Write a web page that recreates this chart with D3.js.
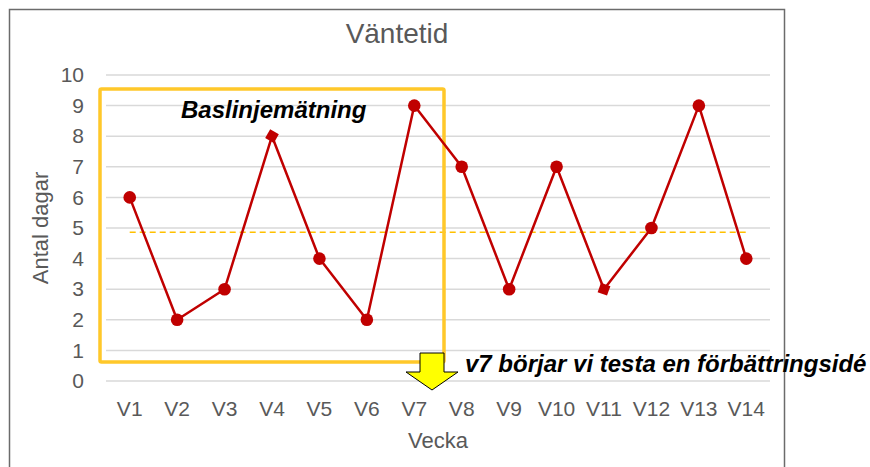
<!DOCTYPE html>
<html>
<head>
<meta charset="utf-8">
<script src="https://cdn.jsdelivr.net/npm/d3@7"></script>
<style>
  html, body { margin: 0; padding: 0; background: #fff; }
  svg { display: block; font-family: "Liberation Sans", Arial, sans-serif; }
</style>
</head>
<body>
<svg id="chart" width="870" height="467"></svg>
<script>
// Waiting time per week (days)
const weeks = ["V1","V2","V3","V4","V5","V6","V7","V8","V9","V10","V11","V12","V13","V14"];
const days = [6, 2, 3, 8, 4, 2, 9, 7, 3, 7, 3, 5, 9, 4];
// Marker shape per week: most are dots, two are tilted squares
const markerKinds = ["circle","circle","circle","square","circle","circle","circle","circle","circle","circle","square","circle","circle","circle"];
const markerTilt = [0,0,0,30,0,0,0,0,0,0,20,0,0,0];
const yTicks = [0,1,2,3,4,5,6,7,8,9,10];
// Baseline period V1–V7 and its mean
const baselineWeeks = weeks.slice(0, 7);
const baselineMean = d3.mean(days.slice(0, 7));
const boxRange = [0.62, 9.54];

const titleText = "Väntetid";
const xTitle = "Vecka";
const yTitle = "Antal dagar";
const baselineLabel = "Baslinjemätning";
const changeLabel = "v7 börjar vi testa en förbättringsidé";

const svg = d3.select("#chart");
const plot = { left: 106, right: 770, top: 75, bottom: 381 };

const x = d3.scaleBand().domain(weeks).range([plot.left, plot.right]).padding(0);
const y = d3.scaleLinear().domain([0, 10]).range([plot.bottom, plot.top]);
const cx = d => x(d) + x.bandwidth() / 2;

// Chart frame (open at the bottom edge of the window)
svg.append("rect")
  .attr("x", 9.5).attr("y", 9.5).attr("width", 775).attr("height", 480)
  .attr("fill", "#fff").attr("stroke", "#6b6b6b").attr("stroke-width", 1.5);

// Title
svg.append("text")
  .attr("x", (plot.left + plot.right) / 2 - 41).attr("y", 43)
  .attr("text-anchor", "middle")
  .attr("font-size", 28).attr("fill", "#595959")
  .text(titleText);

// Horizontal gridlines
svg.append("g").selectAll("line").data(yTicks).join("line")
  .attr("x1", plot.left).attr("x2", plot.right)
  .attr("y1", d => y(d)).attr("y2", d => y(d))
  .attr("stroke", "#d9d9d9").attr("stroke-width", 1.5);

// Y axis tick labels
const yAxis = d3.axisLeft(y).tickValues(yTicks).tickSize(0).tickPadding(0);
svg.append("g").attr("transform", `translate(${plot.left - 22},0)`)
  .call(yAxis)
  .call(g => g.select(".domain").remove())
  .call(g => g.selectAll("text")
    .attr("font-size", 21).attr("fill", "#595959")
    .attr("font-family", "Liberation Sans, Arial, sans-serif"));

// X axis tick labels
const xAxis = d3.axisBottom(x).tickSize(0).tickPadding(0);
svg.append("g").attr("transform", `translate(0,${plot.bottom + 20})`)
  .call(xAxis)
  .call(g => g.select(".domain").remove())
  .call(g => g.selectAll("text")
    .attr("font-size", 21).attr("fill", "#595959")
    .attr("font-family", "Liberation Sans, Arial, sans-serif"));

// Axis titles
svg.append("text")
  .attr("x", (plot.left + plot.right) / 2).attr("y", 448)
  .attr("text-anchor", "middle").attr("font-size", 22).attr("fill", "#595959")
  .text(xTitle);
svg.append("text")
  .attr("transform", `translate(48,${(plot.top + plot.bottom) / 2}) rotate(-90)`)
  .attr("text-anchor", "middle").attr("font-size", 22).attr("fill", "#595959")
  .text(yTitle);

// Baseline mean (dashed)
svg.append("line")
  .attr("x1", cx(weeks[0])).attr("x2", cx(weeks[weeks.length - 1]))
  .attr("y1", y(baselineMean)).attr("y2", y(baselineMean))
  .attr("stroke", "#ffc000").attr("stroke-width", 1.5)
  .attr("stroke-dasharray", "6,4");

// Baseline period box
const bx0 = x(baselineWeeks[0]) - 6;
const bx1 = x(baselineWeeks[baselineWeeks.length - 1]) + x.bandwidth() + 6;
svg.append("rect")
  .attr("x", bx0).attr("y", y(boxRange[1]))
  .attr("width", bx1 - bx0).attr("height", y(boxRange[0]) - y(boxRange[1]))
  .attr("rx", 1.5)
  .attr("fill", "none").attr("stroke", "#ffc82a").attr("stroke-width", 3.5);

// Data line
const line = d3.line().x((d, i) => cx(weeks[i])).y(d => y(d));
svg.append("path").datum(days)
  .attr("d", line)
  .attr("fill", "none").attr("stroke", "#c00000").attr("stroke-width", 2.5)
  .attr("stroke-linejoin", "round");

// Markers
const pts = svg.append("g").selectAll("g").data(days).join("g")
  .attr("transform", (d, i) => `translate(${cx(weeks[i])},${y(d)}) rotate(${markerTilt[i]})`);
pts.filter((d, i) => markerKinds[i] === "circle")
  .append("circle").attr("r", 6.3).attr("fill", "#c00000");
pts.filter((d, i) => markerKinds[i] === "square")
  .append("rect").attr("x", -5).attr("y", -5).attr("width", 10).attr("height", 10)
  .attr("fill", "#c00000");

// Baseline label
svg.append("text")
  .attr("x", 181).attr("y", 118)
  .attr("font-size", 24).attr("font-weight", "bold").attr("font-style", "italic")
  .attr("fill", "#000").text(baselineLabel);

// Down arrow marking the start of the change
const ax = bx1 - 12;
const arrow = [
  [ax - 12, 353], [ax + 12, 353], [ax + 12, 372], [ax + 26, 372],
  [ax, 390], [ax - 26, 372], [ax - 12, 372]
];
svg.append("polygon")
  .attr("points", arrow.map(p => p.join(",")).join(" "))
  .attr("fill", "#ffff00").attr("stroke", "#000").attr("stroke-width", 1);

// Change annotation
svg.append("text")
  .attr("x", 465).attr("y", 372)
  .attr("font-size", 24).attr("font-weight", "bold").attr("font-style", "italic")
  .attr("fill", "#000").text(changeLabel);
</script>
</body>
</html>
